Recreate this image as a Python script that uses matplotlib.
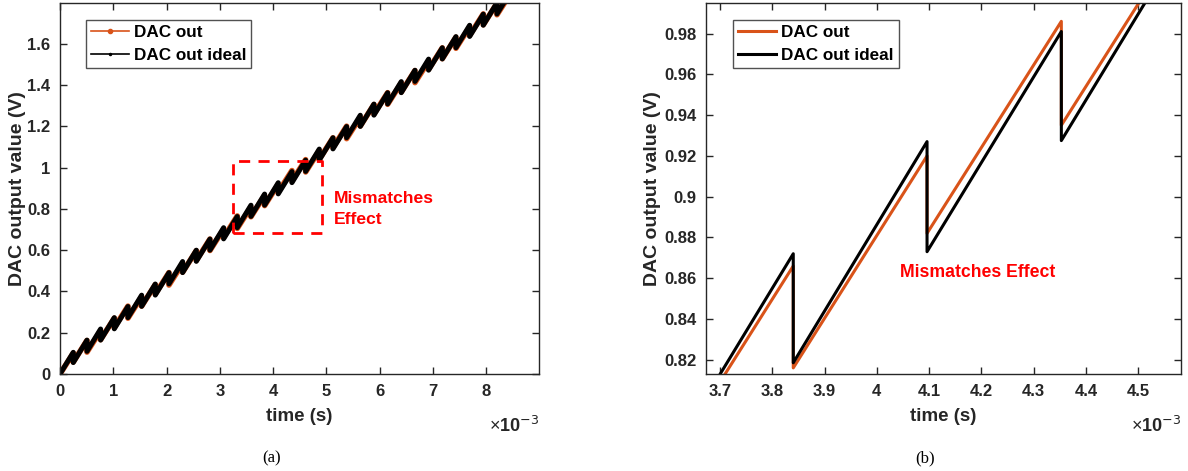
import matplotlib
matplotlib.use('Agg')
import matplotlib.pyplot as plt
from matplotlib.lines import Line2D

plt.rcParams['font.family'] = ['Liberation Sans', 'DejaVu Sans']
plt.rcParams['mathtext.fontset'] = 'custom'
plt.rcParams['mathtext.rm'] = 'Liberation Sans'
plt.rcParams['mathtext.bf'] = 'Liberation Sans:bold'

# sawtooth vertices, times in ms
tooth_t = [0.249, 0.506, 0.762, 1.019, 1.275, 1.532, 1.788, 2.045, 2.301, 2.558,
           2.814, 3.071, 3.327, 3.584, 3.840, 4.096, 4.353, 4.610, 4.866, 5.123,
           5.379, 5.636, 5.892, 6.149, 6.405, 6.662, 6.918, 7.175, 7.431, 7.688,
           7.944, 8.201]
ideal_peak = [0.105, 0.164, 0.218, 0.273, 0.327, 0.382, 0.436, 0.491, 0.545, 0.600,
              0.654, 0.709, 0.763, 0.818, 0.872, 0.927, 0.981, 1.036, 1.090, 1.145,
              1.199, 1.254, 1.308, 1.363, 1.417, 1.472, 1.526, 1.581, 1.635, 1.690,
              1.744, 1.799]
ideal_trough = [0.0555, 0.110, 0.1645, 0.219, 0.2735, 0.328, 0.3825, 0.437, 0.4915, 0.546,
                0.6005, 0.655, 0.7095, 0.764, 0.8185, 0.873, 0.9275, 0.982, 1.0365, 1.091,
                1.1455, 1.200, 1.2545, 1.309, 1.3635, 1.418, 1.4725, 1.527, 1.5815, 1.636,
                1.6905, 1.745]
out_peak = [0.101, 0.1625, 0.210, 0.2705, 0.329, 0.3745, 0.433, 0.4915, 0.535, 0.5975,
            0.654, 0.7025, 0.766, 0.8095, 0.866, 0.920, 0.986, 1.039, 1.083, 1.1445,
            1.201, 1.2445, 1.306, 1.3635, 1.411, 1.4705, 1.516, 1.5805, 1.632, 1.6825,
            1.745, 1.7965]
out_trough = [0.0585, 0.106, 0.1665, 0.225, 0.2705, 0.329, 0.3875, 0.431, 0.4935, 0.550,
              0.5985, 0.662, 0.7055, 0.762, 0.816, 0.882, 0.935, 0.979, 1.0405, 1.097,
              1.1405, 1.202, 1.2595, 1.307, 1.3665, 1.412, 1.4765, 1.528, 1.5785, 1.641,
              1.6925, 1.741]
t_end = 8.35
ideal_end = 1.808
out_end = 1.801

box_x = [3.24, 4.915]
box_y = [0.681, 1.031]

orange = '#D95319'
dark = '#262626'


def saw(peaks, troughs, y_end):
    xs, ys = [0.0], [0.0]
    for t, p, tr in zip(tooth_t, peaks, troughs):
        xs += [t, t]
        ys += [p, tr]
    xs.append(t_end)
    ys.append(y_end)
    return xs, ys


ix, iy = saw(ideal_peak, ideal_trough, ideal_end)
ox, oy = saw(out_peak, out_trough, out_end)

fig = plt.figure(figsize=(11.88, 4.71), dpi=100)
ax1 = fig.add_axes([60 / 1188, 97 / 471, 479 / 1188, 371 / 471])
ax2 = fig.add_axes([706 / 1188, 97 / 471, 475 / 1188, 371 / 471])

leg_kw = dict(loc='upper left', borderaxespad=0, handlelength=2.2, handletextpad=0.3,
              borderpad=0.3, labelspacing=0.45, prop={'size': 12.3, 'weight': 'bold'})

# (a) full view
ax1.plot(ox, oy, color=orange, lw=4.0, solid_joinstyle='round')
ax1.plot(ix, iy, color='black', lw=3.6, solid_joinstyle='round')
ax1.plot([box_x[0], box_x[1], box_x[1], box_x[0], box_x[0]],
         [box_y[0], box_y[0], box_y[1], box_y[1], box_y[0]],
         color='red', lw=2, ls=(0, (4, 3)))
ax1.text(5.14, 0.80, 'Mismatches\nEffect', color='red', fontsize=12.6,
         fontweight='bold', ha='left', va='center', linespacing=1.5)
ax1.set_xlim(0, 8.99)
ax1.set_ylim(0, 1.798)
ax1.set_xticks(range(0, 9))
ax1.set_yticks([0, 0.2, 0.4, 0.6, 0.8, 1.0, 1.2, 1.4, 1.6])
ax1.set_yticklabels(['0', '0.2', '0.4', '0.6', '0.8', '1', '1.2', '1.4', '1.6'])
h1 = [Line2D([], [], color=orange, lw=1.2, marker='.', markersize=6),
      Line2D([], [], color='black', lw=1.2, marker='.', markersize=3)]
ax1.legend(h1, ['DAC out', 'DAC out ideal'], bbox_to_anchor=(0.054, 0.954), **leg_kw)

# (b) zoomed view
ax2.plot(ox, oy, color=orange, lw=2.2)
ax2.plot(ix, iy, color='black', lw=2.2)
ax2.text(4.045, 0.863, 'Mismatches Effect', color='red', fontsize=12.7,
         fontweight='bold', ha='left', va='center')
ax2.set_xlim(3.673, 4.582)
ax2.set_ylim(0.813, 0.995)
ax2.set_xticks([3.7, 3.8, 3.9, 4.0, 4.1, 4.2, 4.3, 4.4, 4.5])
ax2.set_xticklabels(['3.7', '3.8', '3.9', '4', '4.1', '4.2', '4.3', '4.4', '4.5'])
ax2.set_yticks([0.82, 0.84, 0.86, 0.88, 0.90, 0.92, 0.94, 0.96, 0.98])
ax2.set_yticklabels(['0.82', '0.84', '0.86', '0.88', '0.9', '0.92', '0.94', '0.96', '0.98'])
h2 = [Line2D([], [], color=orange, lw=2.2), Line2D([], [], color='black', lw=2.2)]
ax2.legend(h2, ['DAC out', 'DAC out ideal'], bbox_to_anchor=(0.057, 0.954), **leg_kw)

for ax, ypad in ((ax1, 1), (ax2, 2)):
    for s in ax.spines.values():
        s.set_color(dark)
        s.set_linewidth(1.0)
    ax.tick_params(direction='in', length=5, width=1, colors=dark,
                   top=True, right=True, labelsize=12, pad=7)
    for lab in ax.get_xticklabels() + ax.get_yticklabels():
        lab.set_fontweight('bold')
    ax.set_xlabel('time (s)', fontsize=13.5, fontweight='bold', color=dark, labelpad=7)
    ax.set_ylabel('DAC output value (V)', fontsize=14, fontweight='bold', color=dark,
                  labelpad=ypad)
    frame = ax.get_legend().get_frame()
    frame.set_edgecolor(dark)
    frame.set_linewidth(1.0)
    frame.set_boxstyle('square', pad=0)
    ax.text(1.0, -0.14, r'$\times\mathbf{10^{\mathsf{-3}}}$', transform=ax.transAxes,
            ha='right', va='center', fontsize=13, color=dark)

fig.text(272 / 1188, 1 - 458 / 471, '(a)', family='Liberation Serif', fontsize=12,
         ha='center', va='center')
fig.text(925 / 1188, 1 - 458 / 471, '(b)', family='Liberation Serif', fontsize=12,
         ha='center', va='center')

fig.savefig('out.png', dpi=100)
